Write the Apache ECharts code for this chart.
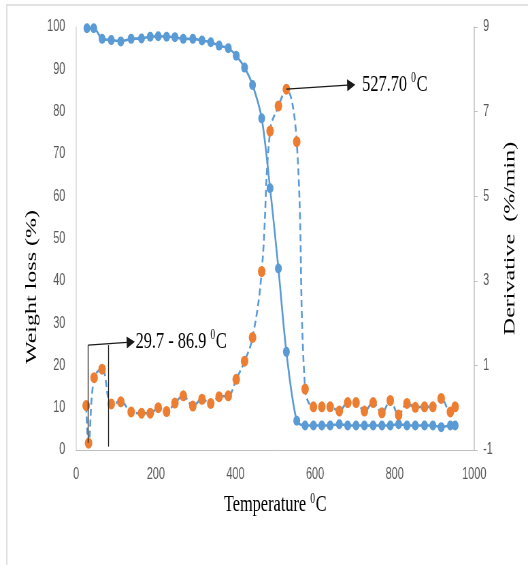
<!DOCTYPE html>
<html>
<head>
<meta charset="utf-8">
<script src="https://cdn.jsdelivr.net/npm/echarts@6/dist/echarts.min.js"></script>
<style>
  html, body { margin: 0; padding: 0; background: #fff; overflow: hidden; width: 528px; height: 565px; }
  #chart { width: 776px; height: 565px; transform: scaleX(0.6804); transform-origin: 0 0; }
</style>
</head>
<body>
<div id="chart"></div>
<script>
// ---- data ----
const weightT = [27, 44, 65, 88, 112, 138, 164, 186, 206, 227, 248, 269, 293, 316, 338, 359, 382, 402, 423, 443, 466, 487, 508, 528, 554, 575, 596, 617, 638, 661, 682, 703, 724, 746, 768, 789, 810, 831, 852, 875, 896, 917, 940, 952];
const weightLoss = [99.7, 99.7, 97.2, 96.9, 96.6, 97.2, 97.3, 97.7, 97.8, 97.7, 97.6, 97.2, 97.2, 96.8, 96.4, 95.6, 95.0, 93.2, 90.4, 86.3, 78.4, 61.9, 42.9, 23.2, 6.9, 5.8, 5.8, 5.8, 5.8, 6.1, 5.8, 5.8, 5.8, 5.8, 5.8, 5.8, 6.1, 5.8, 5.8, 5.8, 5.8, 5.4, 5.8, 5.8];
const derivT = [25, 31, 45, 65, 88, 112, 138, 164, 186, 206, 227, 248, 269, 293, 316, 338, 359, 382, 402, 423, 443, 466, 487, 508, 528, 554, 575, 596, 617, 638, 661, 682, 703, 724, 746, 768, 789, 810, 831, 852, 875, 896, 917, 940, 952];
const derivRate = [0.05, -0.84, 0.71, 0.91, 0.09, 0.14, -0.10, -0.13, -0.13, 0.00, -0.09, 0.11, 0.28, 0.04, 0.20, 0.10, 0.26, 0.28, 0.67, 1.10, 1.66, 3.22, 6.54, 7.13, 7.53, 6.29, 0.44, 0.02, 0.02, 0.02, -0.08, 0.12, 0.12, -0.08, 0.12, -0.12, 0.17, -0.17, 0.10, 0.01, 0.02, 0.02, 0.22, -0.10, 0.02];
const xTicks = { min: 0, max: 1000, interval: 200 };
const leftTicks = { min: 0, max: 100, interval: 10 };
const rightTicks = { min: -1, max: 9, interval: 2 };
const peakLabel = ['527.70 ', '0', 'C'];
const rangeLabel = ['29.7 - 86.9 ', '0', 'C'];
const peakAt = [528, 7.53];
const rangeStart = 29.7, rangeEnd = 80;

const serif = '"Liberation Serif", "Times New Roman", serif';
const sans = '"Liberation Sans", Arial, sans-serif';
const supRich = {
  t: { fontFamily: serif, fontSize: 24, color: '#000', lineHeight: 26 },
  s: { fontFamily: serif, fontSize: 14, color: '#000', verticalAlign: 'top', lineHeight: 26, padding: [0, 1, 8, 0] }
};
const rt = (a) => '{t|' + a[0] + '}{s|' + a[1] + '}{t|' + a[2] + '}';
const plain = (v) => String(v);

const chart = echarts.init(document.getElementById('chart'), null, { renderer: 'canvas' });
chart.setOption({
  animation: false,
  backgroundColor: '#fff',
  graphic: [{
    type: 'rect', z: -10, silent: true,
    shape: { x: 10, y: 5, width: 900, height: 700 },
    style: { fill: 'none', stroke: '#d9d9d9', lineWidth: 1.6 }
  }],
  grid: { left: 112, right: 79, top: 27, bottom: 115 },
  xAxis: {
    type: 'value', min: xTicks.min, max: xTicks.max, interval: xTicks.interval,
    axisLine: { show: true, onZero: false, lineStyle: { color: '#bfbfbf', width: 1 } },
    axisTick: { show: false },
    splitLine: { show: false },
    axisLabel: { color: '#595959', fontSize: 16, fontFamily: sans, margin: 17, formatter: plain },
    name: rt(['Temperature ', '0', 'C']),
    nameLocation: 'middle', nameGap: 42,
    nameTextStyle: { rich: supRich }
  },
  yAxis: [{
    type: 'value', position: 'left', min: leftTicks.min, max: leftTicks.max, interval: leftTicks.interval,
    axisLine: { show: true, lineStyle: { color: '#d9d9d9', width: 1.5 } },
    axisTick: { show: false },
    splitLine: { show: false },
    axisLabel: { color: '#595959', fontSize: 16, fontFamily: sans, margin: 16, formatter: plain },
    name: 'Weight loss (%)', nameLocation: 'middle', nameRotate: 90, nameGap: 44,
    nameTextStyle: { fontFamily: serif, fontSize: 24, color: '#000', padding: [0, 97, 0, 0] }
  }, {
    type: 'value', position: 'right', min: rightTicks.min, max: rightTicks.max, interval: rightTicks.interval,
    axisLine: { show: true, lineStyle: { color: '#bfbfbf', width: 1.5 } },
    axisTick: { show: true, length: 5, lineStyle: { color: '#bfbfbf' } },
    splitLine: { show: false },
    axisLabel: { color: '#595959', fontSize: 16, fontFamily: sans, margin: 13, formatter: plain },
    name: 'Derivative  (%/min)', nameLocation: 'middle', nameRotate: 90, nameGap: 41,
    nameTextStyle: { fontFamily: serif, fontSize: 24, color: '#000' }
  }],
  series: [{
    name: 'Weight loss', type: 'line', yAxisIndex: 0,
    data: weightT.map((t, i) => [t, weightLoss[i]]),
    smooth: 0.3,
    symbol: 'circle', symbolSize: 10,
    itemStyle: { color: '#5b9bd5' },
    lineStyle: { color: '#5b9bd5', width: 2.6 },
    z: 3
  }, {
    name: 'Derivative', type: 'line', yAxisIndex: 1,
    data: derivT.map((t, i) => [t, derivRate[i]]),
    smooth: 0.4,
    symbol: 'circle', symbolSize: 11,
    itemStyle: { color: '#ed7d31' },
    lineStyle: { color: '#5b9bd5', width: 2.6, type: [7, 4] },
    z: 4,
    markLine: {
      silent: true, animation: false,
      symbol: ['none', 'none'],
      lineStyle: { type: 'solid', color: '#1a1a1a', width: 1.3 },
      emphasis: { disabled: true },
      label: { show: false },
      data: [
        [{ coord: peakAt, symbol: 'none' },
         { coord: [691, 7.63], symbol: 'triangle', symbolSize: [12, 12],
           label: { show: true, position: 'end', distance: 16, formatter: rt(peakLabel), rich: supRich } }],
        [{ coord: [rangeStart, 1.48], symbol: 'none' }, { coord: [rangeStart, -0.83], symbol: 'none' }],
        [{ coord: [rangeEnd, 1.48], symbol: 'none' }, { coord: [rangeEnd, -0.92], symbol: 'none' }],
        [{ coord: [rangeStart, 1.48], symbol: 'none' },
         { coord: [137, 1.55], symbol: 'triangle', symbolSize: [12, 12],
           label: { show: true, position: 'end', distance: 7, formatter: rt(rangeLabel), rich: supRich } }]
      ]
    }
  }]
});
</script>
</body>
</html>
